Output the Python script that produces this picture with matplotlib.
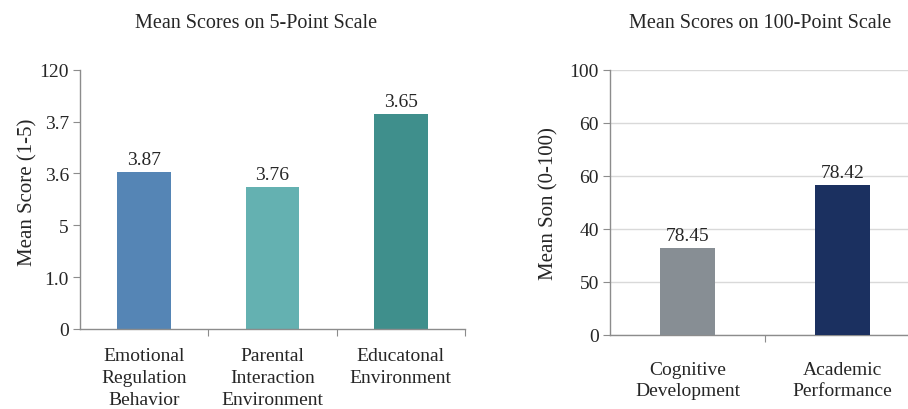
import matplotlib.pyplot as plt
import numpy as np

plt.rcParams['font.family'] = ['Liberation Serif', 'DejaVu Serif']

# left panel (5-point scale) - bar heights in tick-slot units as drawn
cats_5 = ['Emotional\nRegulation\nBehavior', 'Parental\nInteraction\nEnvironment', 'Educatonal\nEnvironment']
heights_5 = [3.02, 2.73, 4.14]
labels_5 = ['3.87', '3.76', '3.65']
yticklabels_5 = ['0', '1.0', '5', '3.6', '3.7', '120']
colors_5 = ['#5585b5', '#64b1b1', '#3f8f8c']

# right panel (100-point scale)
cats_100 = ['Cognitive\nDevelopment', 'Academic\nPerformance']
heights_100 = [1.64, 2.83]
labels_100 = ['78.45', '78.42']
yticklabels_100 = ['0', '50', '40', '60', '60', '100']
colors_100 = ['#878e94', '#1b3060']

TXT = '#262626'
FS = 14

fig = plt.figure(figsize=(9.08, 4.10), dpi=100)
W, H = 908, 410


def px_axes(x0, x1, ytop, ybot):
    return fig.add_axes([x0 / W, (H - ybot) / H, (x1 - x0) / W, (ybot - ytop) / H])


def style(ax, n, yticklabels, grid):
    ax.set_ylim(0, 5)
    ax.set_xlim(-0.5, n - 0.5)
    ax.set_yticks(range(6))
    ax.set_yticklabels(yticklabels, fontsize=FS, color=TXT)
    for s in ['top', 'right']:
        ax.spines[s].set_visible(False)
    for s in ['left', 'bottom']:
        ax.spines[s].set_color('#8c8c8c')
        ax.spines[s].set_linewidth(1.0)
    ax.tick_params(axis='y', length=5, color='#8c8c8c', pad=3)
    ax.set_xticks(np.arange(n) + 0.5)
    ax.set_xticklabels([])
    ax.tick_params(axis='x', which='major', length=5, color='#8c8c8c')
    if grid:
        ax.yaxis.grid(True, color='#d9d9d9', linewidth=1.0)
        ax.set_axisbelow(True)


# left
ax1 = px_axes(80, 465, 70.7, 330)
x5 = np.arange(len(cats_5))
ax1.bar(x5, heights_5, width=0.42, color=colors_5)
style(ax1, len(cats_5), yticklabels_5, False)
ax1.set_xticks(x5, minor=True)
ax1.set_xticklabels(cats_5, minor=True, fontsize=FS, color=TXT, linespacing=1.4)
ax1.tick_params(axis='x', which='minor', length=0, pad=13)
for xi, h, t in zip(x5, heights_5, labels_5):
    ax1.text(xi, h + 0.08, t, ha='center', va='bottom', fontsize=FS, color=TXT)
ax1.set_ylabel('Mean Score (1-5)', fontsize=FS + 1, color=TXT, labelpad=8)
ax1.yaxis.set_label_coords(-0.11, 0.53)
fig.text(256 / W, 1 - 24 / H, 'Mean Scores on 5-Point Scale', ha='center', va='center',
         fontsize=FS + 0.5, color=TXT)

# right
ax2 = px_axes(610, 920, 70.7, 336)
x100 = np.arange(len(cats_100))
ax2.bar(x100, heights_100, width=0.36, color=colors_100, zorder=3)
style(ax2, len(cats_100), yticklabels_100, True)
ax2.set_xticks(x100, minor=True)
ax2.set_xticklabels(cats_100, minor=True, fontsize=FS, color=TXT, linespacing=1.3)
ax2.tick_params(axis='x', which='minor', length=0, pad=19)
for xi, h, t in zip(x100, heights_100, labels_100):
    ax2.text(xi, h + 0.08, t, ha='center', va='bottom', fontsize=FS, color=TXT)
ax2.set_ylabel('Mean Son (0-100)', fontsize=FS + 1, color=TXT, labelpad=8)
fig.text(760 / W, 1 - 24 / H, 'Mean Scores on 100-Point Scale', ha='center', va='center',
         fontsize=FS + 0.5, color=TXT)

fig.savefig('out.png', dpi=100)
